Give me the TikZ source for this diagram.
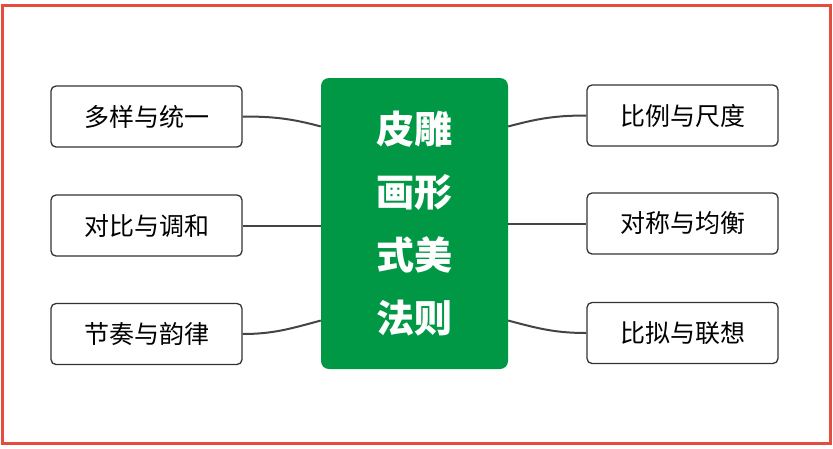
\documentclass[tikz,border=0pt]{standalone}
\usepackage{fontspec}
\setmainfont{Noto Sans CJK SC}
\definecolor{mgreen}{RGB}{0,152,68}
\definecolor{mred}{RGB}{229,76,62}
\definecolor{mline}{RGB}{68,68,68}
\begin{document}
\begin{tikzpicture}[x=1pt,y=-1pt,
	topic/.style={draw=black!80,line width=1.3pt,rounded corners=5pt,minimum width=191pt,minimum height=61pt,inner sep=0pt,font=\fontsize{25}{25}\selectfont},
	root/.style={fill=mgreen,rounded corners=8pt,minimum width=187pt,minimum height=291pt,inner sep=0pt,text=white,align=center,font=\fontsize{38}{63}\selectfont\bfseries},
	link/.style={draw=mline,line width=2pt}]
		\useasboundingbox (0,0) rectangle (833,448);
		\draw[mred,line width=3pt] (2.5,5) rectangle (830,443.5);
		
		\node[root] (Z) at (414.5,223.5) {皮雕\\画形\\式美\\法则};
		
		\node[topic] (A) at (146.5,116.5) {多样与统一};
		\node[topic] (B) at (146.5,225.5) {对比与调和};
		\node[topic] (C) at (146.5,334) {节奏与韵律};
		
		\node[topic] (D) at (682.5,115.5) {比例与尺度};
		\node[topic] (E) at (682.5,223.5) {对称与均衡};
		\node[topic] (F) at (682.5,333) {比拟与联想};
	
		\draw[link] (A.east) to[out=0,in=165] (Z.134);
		\draw[link] (B.east) -- (Z.west |- B.east);
		\draw[link] (C.east) to[out=0,in=195] (Z.226);
		\draw[link] (Z.46) to[out=15,in=180] (D.west);
		\draw[link] (Z.east) -- (E.west);
		\draw[link] (Z.-46) to[out=-15,in=180] (F.west);
		\end{tikzpicture}
\end{document}
